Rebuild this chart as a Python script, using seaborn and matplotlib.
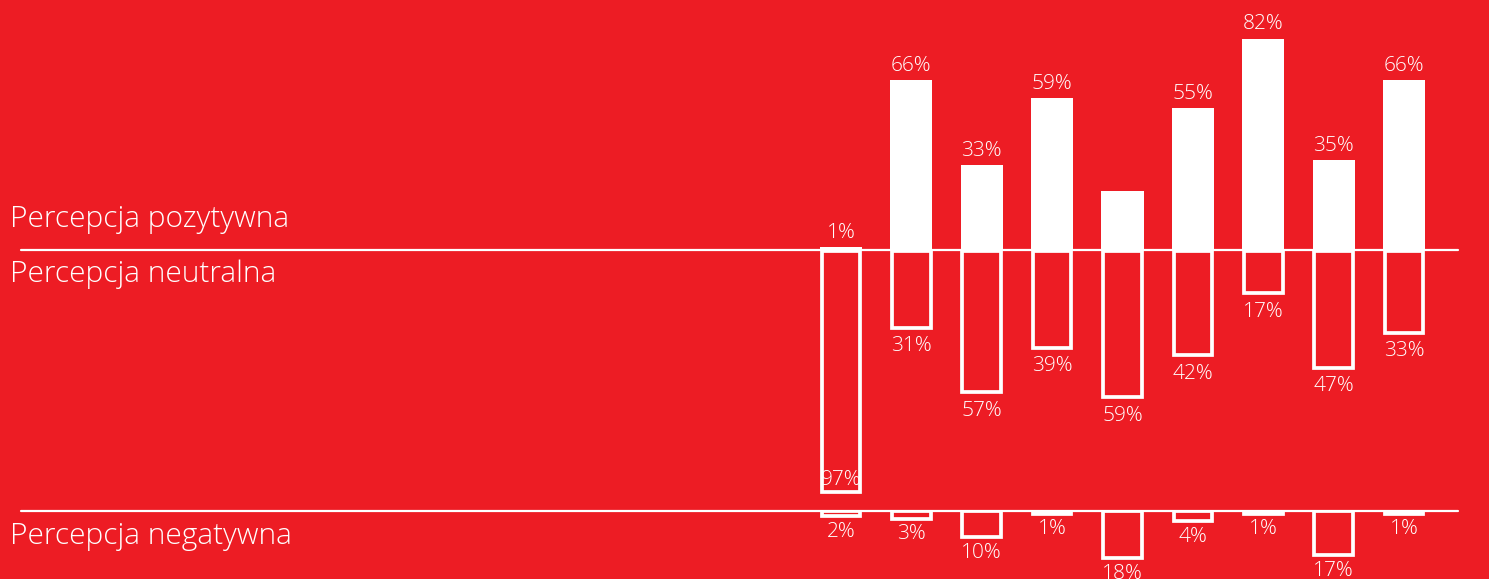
import matplotlib
matplotlib.use("Agg")
import matplotlib.pyplot as plt
import seaborn as sns
import pandas as pd

# ---- data ----
categories = ["A", "B", "C", "D", "E", "F", "G", "H", "I"]
positive = [1, 66, 33, 59, 23, 55, 82, 35, 66]
positive_labels = ["1%", "66%", "33%", "59%", "", "55%", "82%", "35%", "66%"]
neutral = [97, 31, 57, 39, 59, 42, 17, 47, 33]
negative = [2, 3, 10, 1, 18, 4, 1, 17, 1]
row_titles = ["Percepcja pozytywna", "Percepcja neutralna", "Percepcja negatywna"]

df = pd.DataFrame({"cat": categories, "pos": positive, "neu": neutral, "neg": negative})

RED = "#ED1C24"
WHITE = "white"
W, H = 1489, 579

sns.set_theme(style="white")
plt.rcParams["font.family"] = ["Open Sans", "DejaVu Sans"]

fig = plt.figure(figsize=(W / 100, H / 100), dpi=100, facecolor=RED)
ax_pos = fig.add_axes([0, 1 - 250 / H, 1, 250 / H])
ax_neu = fig.add_axes([0, 1 - 510 / H, 1, 259 / H])
ax_neg = fig.add_axes([0, 0, 1, 68 / H])

# category spacing: first centre at px 841, step 70.375 px
step = 70.375
x0 = -841 / step
x1 = (W - 841) / step

sns.barplot(data=df, x="cat", y="pos", ax=ax_pos, color=WHITE, saturation=1,
            width=0.6, linewidth=0)
sns.barplot(data=df, x="cat", y="neu", ax=ax_neu, color=WHITE, saturation=1,
            width=0.55, fill=False, linewidth=2.7)
sns.barplot(data=df, x="cat", y="neg", ax=ax_neg, color=WHITE, saturation=1,
            width=0.55, fill=False, linewidth=2.7)

ax_pos.set_ylim(0, 97)
ax_neu.set_ylim(104.4, 0)
ax_neg.set_ylim(26, 0)
for ax in (ax_pos, ax_neu, ax_neg):
    ax.set_xlim(x0, x1)
    ax.set_facecolor("none")
    ax.axis("off")

# separator lines
ax_pos.axhline(0, xmin=21 / W, xmax=1458 / W, color=WHITE, lw=1.6, clip_on=False, zorder=0)
ax_neg.axhline(0, xmin=21 / W, xmax=1458 / W, color=WHITE, lw=1.6, clip_on=False, zorder=0)

lab_kw = dict(color=WHITE, fontsize=15, fontweight="light", ha="center",
              textcoords="offset points")
for i, (v, lbl) in enumerate(zip(positive, positive_labels)):
    if lbl:
        ax_pos.annotate(lbl, (i, v), xytext=(0, 3), va="bottom", **lab_kw)
for i, v in enumerate(neutral):
    if v > 90:
        ax_neu.annotate(f"{v}%", (i, v), xytext=(0, 1), va="bottom", **lab_kw)
    else:
        ax_neu.annotate(f"{v}%", (i, v), xytext=(0, -6), va="top", **lab_kw)
for i, v in enumerate(negative):
    ax_neg.annotate(f"{v}%", (i, v), xytext=(0, -4), va="top",
                    annotation_clip=False, **lab_kw)

for title, ypx in zip(row_titles, [219, 274, 536]):
    fig.text(10 / W, 1 - ypx / H, title, color=WHITE, fontsize=21.5,
             fontweight="light", ha="left", va="center")

fig.savefig("out.png", dpi=100, facecolor=RED)
